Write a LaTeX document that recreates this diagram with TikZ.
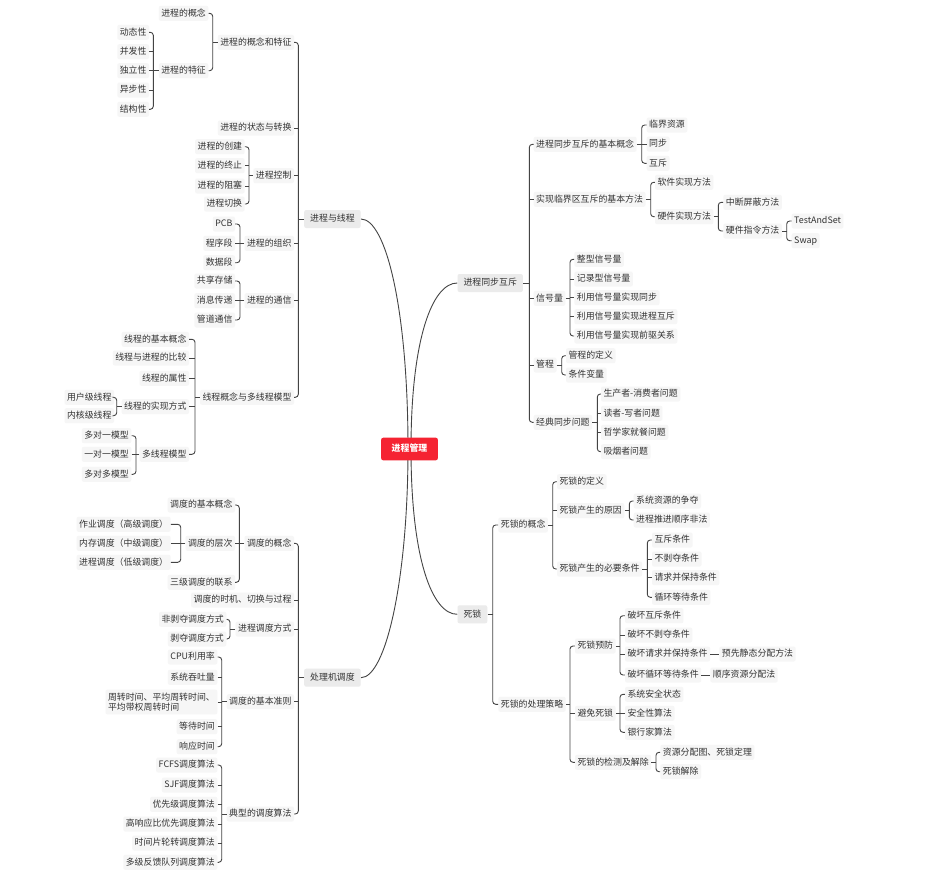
\documentclass[tikz,border=0pt]{standalone}
\usepackage{fontspec}
\setmainfont{Noto Sans CJK SC}
\usetikzlibrary{backgrounds}
\definecolor{leafc}{HTML}{F6F6F6}
\definecolor{lonec}{HTML}{EBEBEB}
\definecolor{rootc}{HTML}{F52332}
\definecolor{linec}{HTML}{444444}
\definecolor{txt}{HTML}{333333}
\newcommand\bracketL[4]{%
  \draw[conn] (#1.west) -- (#1.west -| #2,0);
  \draw[conn,rounded corners=3pt] (#3.east) -- (#3.east -| #2,0) -- (#4.east -| #2,0) -- (#4.east);}
\newcommand\stubL[2]{\foreach \c in {#2}{\draw[conn] (\c.east) -- (\c.east -| #1,0);}}
\newcommand\bracketR[4]{%
  \draw[conn] (#1.east) -- (#1.east -| #2,0);
  \draw[conn,rounded corners=3pt] (#3.west) -- (#3.west -| #2,0) -- (#4.west -| #2,0) -- (#4.west);}
\newcommand\stubR[2]{\foreach \c in {#2}{\draw[conn] (\c.west) -- (\c.west -| #1,0);}}
\tikzset{
  base/.style={font=\fontsize{8.9}{10.6}\selectfont, text=txt, inner ysep=3pt, inner xsep=2.5pt, rounded corners=2pt},
  leaf/.style={base, fill=leafc, text height=7.2pt, text depth=1.8pt},
  leafml/.style={base, fill=leafc, align=left},
  lone/.style={base, fill=lonec, inner xsep=6pt, inner ysep=4.5pt, text height=7.2pt, text depth=1.8pt},
  rootn/.style={fill=rootc, text=white, font=\fontsize{8.9}{10.6}\selectfont\bfseries, inner xsep=10.5pt, inner ysep=6.8pt, text height=7.2pt, text depth=1.8pt, rounded corners=2pt},
  conn/.style={draw=linec, line width=0.9pt},
  L/.style={leaf, anchor=east},
  R/.style={leaf, anchor=west},
}
\begin{document}
\begin{tikzpicture}[x=1pt,y=-1pt]
\begin{pgfonlayer}{background}
\fill[white] (0,0) rectangle (934,873);
\end{pgfonlayer}
\useasboundingbox (0,0) rectangle (934,873);

% root and level one
\node[rootn] (root) at (409.5,449) {进程管理};
\node[lone, anchor=west] (ptt) at (304,219) {进程与线程};
\node[lone, anchor=west] (pcs) at (304,677.7) {处理机调度};
\node[lone, anchor=west] (sync) at (457.3,283) {进程同步互斥};
\node[lone, anchor=west] (dl) at (457.3,614.3) {死锁};

% ---------- 进程与线程 ----------
\node[L] (a1) at (294.2,42.3) {进程的概念和特征};
\node[L] (a2) at (294.2,128) {进程的状态与转换};
\node[L] (a3) at (294.2,175.7) {进程控制};
\node[L] (a4) at (294.2,243.3) {进程的组织};
\node[L] (a5) at (294.2,300.7) {进程的通信};
\node[L] (a6) at (294.2,397.3) {线程概念与多线程模型};
\node[L] (a11) at (208.5,13.3) {进程的概念};
\node[L] (a12) at (208.5,70.7) {进程的特征};
\node[L] (a121) at (149.2,32.3) {动态性};
\node[L] (a122) at (149.2,51.7) {并发性};
\node[L] (a123) at (149.2,70.7) {独立性};
\node[L] (a124) at (149.2,90) {异步性};
\node[L] (a125) at (149.2,109.3) {结构性};
\node[L] (a31) at (244.8,146.7) {进程的创建};
\node[L] (a32) at (244.8,165.7) {进程的终止};
\node[L] (a33) at (244.8,186) {进程的阻塞};
\node[L] (a34) at (244.8,204) {进程切换};
\node[L] (a41) at (235.2,224) {PCB};
\node[L] (a42) at (235.2,243.3) {程序段};
\node[L] (a43) at (235.2,262.7) {数据段};
\node[L] (a51) at (235.2,281) {共享存储};
\node[L] (a52) at (235.2,300.7) {消息传递};
\node[L] (a53) at (235.2,320) {管道通信};
\node[L] (a61) at (189.2,339.3) {线程的基本概念};
\node[L] (a62) at (189.2,358) {线程与进程的比较};
\node[L] (a63) at (189.2,378.3) {线程的属性};
\node[L] (a64) at (189.2,406.7) {线程的实现方式};
\node[L] (a65) at (189.2,454.3) {多线程模型};
\node[L] (a641) at (114.2,397.3) {用户级线程};
\node[L] (a642) at (114.2,415.7) {内核级线程};
\node[L] (a651) at (131.5,435.7) {多对一模型};
\node[L] (a652) at (131.5,454.3) {一对一模型};
\node[L] (a653) at (131.5,474.3) {多对多模型};

\bracketL{ptt}{298.3}{a1}{a6} \stubL{298.3}{a2,a3,a4,a5}
\bracketL{a1}{212.7}{a11}{a12}
\bracketL{a12}{153.3}{a121}{a125} \stubL{153.3}{a122,a123,a124}
\bracketL{a3}{249}{a31}{a34} \stubL{249}{a32,a33}
\bracketL{a4}{240}{a41}{a43} \stubL{240}{a42}
\bracketL{a5}{240}{a51}{a53} \stubL{240}{a52}
\bracketL{a6}{195}{a61}{a65} \stubL{195}{a62,a63,a64}
\bracketL{a64}{116.7}{a641}{a642}
\bracketL{a65}{136}{a651}{a653} \stubL{136}{a652}

% ---------- 处理机调度 ----------
\node[L] (b1) at (294.2,543.3) {调度的概念};
\node[L] (b2) at (294.2,600) {调度的时机、切换与过程};
\node[L] (b3) at (294.2,629) {进程调度方式};
\node[L] (b4) at (294.2,701.7) {调度的基本准则};
\node[L] (b5) at (294.2,814) {典型的调度算法};
\node[L] (b11) at (235.2,505) {调度的基本概念};
\node[L] (b12) at (235.2,543.3) {调度的层次};
\node[L] (b13) at (235.2,582.3) {三级调度的联系};
\node[L] (b121) at (170.8,524.3) {作业调度（高级调度）};
\node[L] (b122) at (170.8,543.3) {内存调度（中级调度）};
\node[L] (b123) at (170.8,562.3) {进程调度（低级调度）};
\node[L] (b31) at (226.5,619.3) {非剥夺调度方式};
\node[L] (b32) at (226.5,639) {剥夺调度方式};
\node[L] (b41) at (217.5,657) {CPU利用率};
\node[L] (b42) at (217.5,677.3) {系统吞吐量};
\node[leafml, anchor=east] (b43) at (217.5,702) {周转时间、平均周转时间、\\平均带权周转时间};
\node[L] (b44) at (217.5,726.7) {等待时间};
\node[L] (b45) at (217.5,746.7) {响应时间};
\node[L] (b51) at (217.5,765) {FCFS调度算法};
\node[L] (b52) at (217.5,785) {SJF调度算法};
\node[L] (b53) at (217.5,804.3) {优先级调度算法};
\node[L] (b54) at (217.5,824) {高响应比优先调度算法};
\node[L] (b55) at (217.5,843) {时间片轮转调度算法};
\node[L] (b56) at (217.5,862.3) {多级反馈队列调度算法};

\bracketL{pcs}{298.3}{b1}{b5} \stubL{298.3}{b2,b3,b4}
\bracketL{b1}{239.3}{b11}{b13} \stubL{239.3}{b12}
\bracketL{b12}{180.7}{b121}{b123} \stubL{180.7}{b122}
\bracketL{b3}{230}{b31}{b32}
\bracketL{b4}{221.7}{b41}{b45} \stubL{221.7}{b42,b43,b44}
\bracketL{b5}{221.7}{b51}{b56} \stubL{221.7}{b52,b53,b54,b55}

% ---------- 进程同步互斥 ----------
\node[R] (c1) at (533.5,144.3) {进程同步互斥的基本概念};
\node[R] (c2) at (533.5,199.3) {实现临界区互斥的基本方法};
\node[R] (c3) at (533.5,298.3) {信号量};
\node[R] (c4) at (533.5,365) {管程};
\node[R] (c5) at (533.5,422.3) {经典同步问题};
\node[R] (c11) at (646.5,125) {临界资源};
\node[R] (c12) at (646.5,144) {同步};
\node[R] (c13) at (646.5,163.3) {互斥};
\node[R] (c21) at (654.8,182.3) {软件实现方法};
\node[R] (c22) at (654.8,216.7) {硬件实现方法};
\node[R] (c221) at (723.2,202.3) {中断屏蔽方法};
\node[R] (c222) at (723.2,231) {硬件指令方法};
\node[R] (c2221) at (791.5,221) {TestAndSet};
\node[R] (c2222) at (791.5,240.7) {Swap};
\node[R] (c31) at (574.2,259.3) {整型信号量};
\node[R] (c32) at (574.2,279) {记录型信号量};
\node[R] (c33) at (574.2,297.7) {利用信号量实现同步};
\node[R] (c34) at (574.2,316.7) {利用信号量实现进程互斥};
\node[R] (c35) at (574.2,336) {利用信号量实现前驱关系};
\node[R] (c41) at (565.8,355.7) {管程的定义};
\node[R] (c42) at (565.8,375) {条件变量};
\node[R] (c51) at (600.8,394) {生产者-消费者问题};
\node[R] (c52) at (600.8,413.3) {读者-写者问题};
\node[R] (c53) at (600.8,432.3) {哲学家就餐问题};
\node[R] (c54) at (600.8,451.7) {吸烟者问题};

\bracketR{sync}{529.3}{c1}{c5} \stubR{529.3}{c2,c3,c4}
\bracketR{c1}{641.7}{c11}{c13} \stubR{641.7}{c12}
\bracketR{c2}{650.7}{c21}{c22}
\bracketR{c22}{718.3}{c221}{c222}
\bracketR{c222}{786.7}{c2221}{c2222}
\bracketR{c3}{570}{c31}{c35} \stubR{570}{c32,c33,c34}
\bracketR{c4}{561.7}{c41}{c42}
\bracketR{c5}{597.3}{c51}{c54} \stubR{597.3}{c52,c53}

% ---------- 死锁 ----------
\node[R] (d1) at (498.2,525) {死锁的概念};
\node[R] (d2) at (498.2,704.3) {死锁的处理策略};
\node[R] (d11) at (556.8,481.7) {死锁的定义};
\node[R] (d12) at (556.8,510.7) {死锁产生的原因};
\node[R] (d13) at (556.8,569) {死锁产生的必要条件};
\node[R] (d121) at (633.5,501) {系统资源的争夺};
\node[R] (d122) at (633.5,520) {进程推进顺序非法};
\node[R] (d131) at (651.8,540) {互斥条件};
\node[R] (d132) at (651.8,559) {不剥夺条件};
\node[R] (d133) at (651.8,577.7) {请求并保持条件};
\node[R] (d134) at (651.8,597.3) {循环等待条件};
\node[R] (d21) at (574.8,646) {死锁预防};
\node[R] (d22) at (574.8,713.3) {避免死锁};
\node[R] (d23) at (574.8,762.3) {死锁的检测及解除};
\node[R] (d211) at (624.8,615.7) {破坏互斥条件};
\node[R] (d212) at (624.8,635) {破坏不剥夺条件};
\node[R] (d213) at (624.8,654) {破坏请求并保持条件};
\node[R] (d214) at (624.8,675) {破坏循环等待条件};
\node[R] (d213a) at (719.2,654) {预先静态分配方法};
\node[R] (d214a) at (710.2,675) {顺序资源分配法};
\node[R] (d221) at (624.8,694.3) {系统安全状态};
\node[R] (d222) at (624.8,713.3) {安全性算法};
\node[R] (d223) at (624.8,732.3) {银行家算法};
\node[R] (d231) at (660.2,752.3) {资源分配图、死锁定理};
\node[R] (d232) at (660.2,771.7) {死锁解除};

\bracketR{dl}{492.7}{d1}{d2}
\bracketR{d1}{552.7}{d11}{d13} \stubR{552.7}{d12}
\bracketR{d12}{629.3}{d121}{d122}
\bracketR{d13}{647.3}{d131}{d134} \stubR{647.3}{d132,d133}
\bracketR{d2}{570}{d21}{d23} \stubR{570}{d22}
\bracketR{d21}{620}{d211}{d214} \stubR{620}{d212,d213}
\draw[conn] (d213.east) -- (d213a.west);
\draw[conn] (d214.east) -- (d214a.west);
\bracketR{d22}{620}{d221}{d223} \stubR{620}{d222}
\bracketR{d23}{656}{d231}{d232}

% ---------- curves from the root ----------
\begin{pgfonlayer}{background}
\draw[conn] (ptt.east) .. controls +(25,0) and +(0,-140) .. ([xshift=-1.5pt]root.center);
\draw[conn] (pcs.east) .. controls +(25,0) and +(0,130) .. ([xshift=-1.5pt]root.center);
\draw[conn] (sync.west) .. controls +(-25,0) and +(0,-110) .. ([xshift=1.5pt]root.center);
\draw[conn] (dl.west) .. controls +(-25,0) and +(0,110) .. ([xshift=1.5pt]root.center);
\end{pgfonlayer}
\end{tikzpicture}
\end{document}
